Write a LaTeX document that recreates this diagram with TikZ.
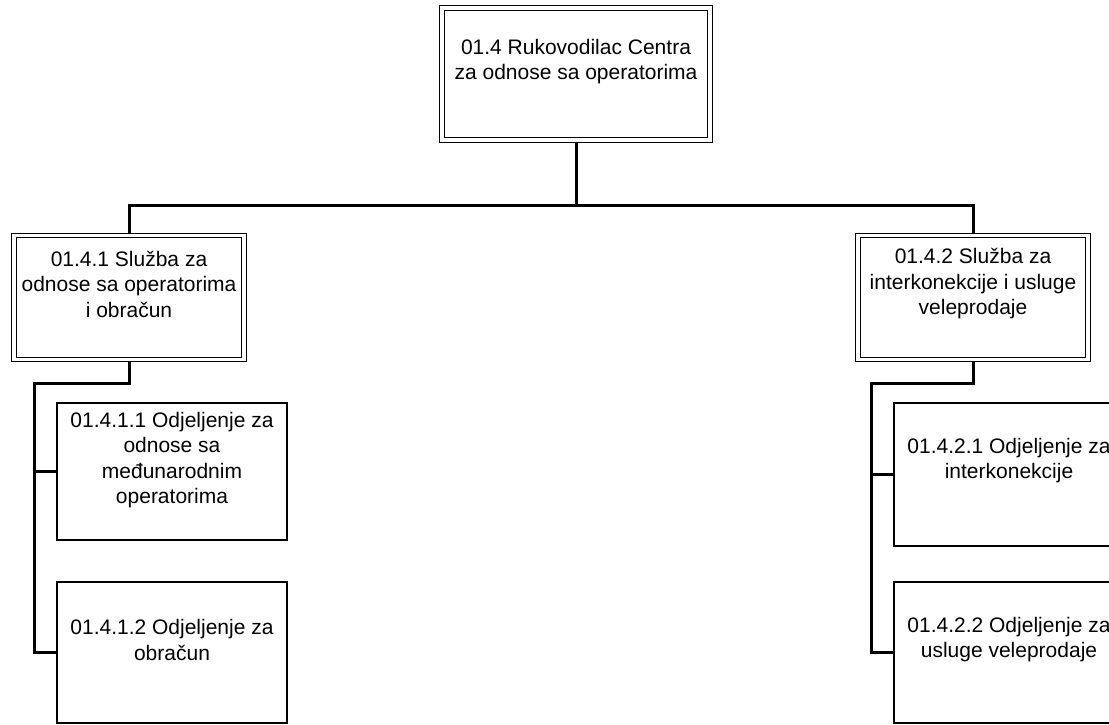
\documentclass[tikz,border=0pt]{standalone}
\usepackage{fontspec}
\setmainfont{Liberation Sans}
\usetikzlibrary{backgrounds}
\begin{document}
\begin{tikzpicture}[x=1pt,y=-1pt,
  unitbox/.style={draw=black,line width=1.3pt,fill=white,inner sep=0pt,minimum width=230pt},
  headbox/.style={draw=black,line width=1.2pt,double=white,double distance=3.2pt,fill=white,inner sep=0pt},
  lbl/.style={align=center,inner sep=0pt,font=\fontsize{21}{25.5}\selectfont},
  conn/.style={draw=black,line width=3pt}]
\useasboundingbox (0,0) rectangle (1109,724);
\clip (0,0) rectangle (1109,724);

% head of the centre
\node[headbox,minimum width=268pt,minimum height=132pt] (top) at (576,74) {};
\node[lbl] (topt) at (576,61.5) {01.4 Rukovodilac Centra\\za odnose sa operatorima};

% services
\node[headbox,minimum width=230pt,minimum height=124pt] (lm) at (129,297.5) {};
\node[lbl] (lmt) at (129,284) {01.4.1 Služba za\\odnose sa operatorima\\i obračun};
\node[headbox,minimum width=230pt,minimum height=124pt] (rm) at (973,297.5) {};
\node[lbl] (rmt) at (973,284) {01.4.2 Služba za\\interkonekcije i usluge\\veleprodaje};

% departments
\node[unitbox,minimum height=137pt] (l1) at (172,471.5) {};
\node[lbl] (l1t) at (172,460) {01.4.1.1 Odjeljenje za\\odnose sa\\međunarodnim\\operatorima};
\node[unitbox,minimum height=141pt] (l2) at (172,652.5) {};
\node[lbl] (l2t) at (172,640) {01.4.1.2 Odjeljenje za\\obračun};
\node[unitbox,minimum height=143pt] (r1) at (1009,474.5) {};
\node[lbl] (r1t) at (1009,460.5) {01.4.2.1 Odjeljenje za\\interkonekcije};
\node[unitbox,minimum height=141pt] (r2) at (1009,652.5) {};
\node[lbl] (r2t) at (1009,639.5) {01.4.2.2 Odjeljenje za\\usluge veleprodaje};

% bus lines
\coordinate (bus) at (576,205);
\coordinate (lbus) at (34,383);
\coordinate (rbus) at (871,383);

\begin{scope}[on background layer]
  \draw[conn] (top.south) -- (bus);
  \draw[conn] (lm.north) -- (lm.north |- bus) -- (rm.north |- bus) -- (rm.north);
  \draw[conn] (lm.south) -- (lm.south |- lbus) -- (lbus) -- (lbus |- l2.west) -- (l2.west);
  \draw[conn] (lbus |- l1.west) -- (l1.west);
  \draw[conn] (rm.south) -- (rm.south |- rbus) -- (rbus) -- (rbus |- r2.west) -- (r2.west);
  \draw[conn] (rbus |- r1.west) -- (r1.west);
\end{scope}
\end{tikzpicture}
\end{document}
